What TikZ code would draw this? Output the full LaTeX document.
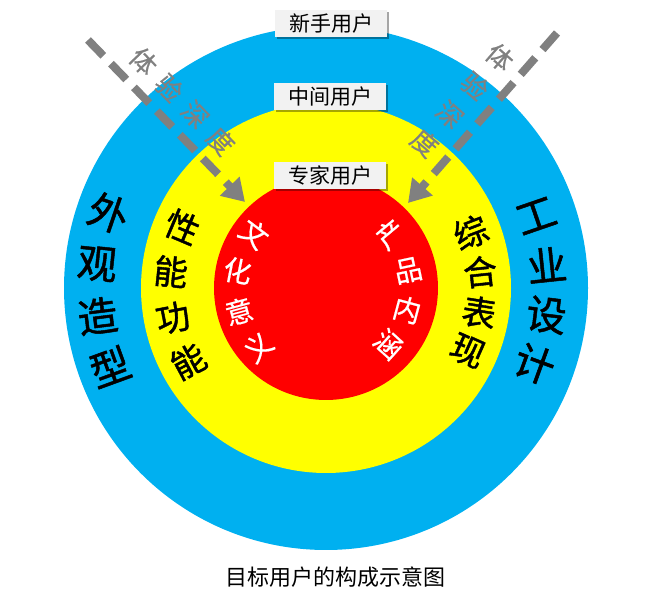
\documentclass[tikz,border=0pt]{standalone}
\usepackage{fontspec}
\setmainfont{Noto Sans CJK SC}
\newfontfamily\ringfont{Noto Sans CJK SC}[FakeBold=1.2]
\newfontfamily\corefont{Noto Sans CJK SC}[FakeBold=0.6]
\usepackage{tikz}
\usetikzlibrary{arrows.meta,shadows}
\definecolor{ringblue}{RGB}{0,176,240}
\definecolor{ringyellow}{RGB}{255,255,0}
\definecolor{ringred}{RGB}{255,0,0}
\definecolor{depthgray}{RGB}{128,128,128}
\definecolor{tagfill}{RGB}{242,242,242}

\begin{document}
\begin{tikzpicture}[x=1pt,y=1pt,
    usertag/.style={fill=tagfill,minimum width=112pt,minimum height=27pt,inner sep=0pt,
      font=\fontsize{21}{21}\selectfont,
      drop shadow={shadow xshift=2pt,shadow yshift=-2pt,opacity=0.35,fill=black}},
    deptharrow/.style={depthgray,line width=8pt,dash pattern=on 22pt off 11pt,
      -{Triangle[length=22pt,width=26pt]}},
    depthchar/.style={text=depthgray,font=\corefont\fontsize{26}{26}\selectfont,inner sep=0pt}]
  \useasboundingbox (0,0) rectangle (670,604);
  \coordinate (C) at (326,316);
  % ---- the three rings
  \fill[ringblue] (C) circle (262);
  \fill[ringyellow] (C) circle (185);
  \fill[ringred] (C) circle (112);
  % ---- blue ring: outer words
  \foreach \ch/\ang [count=\i] in {外/161,观/174,造/187,型/200}
    \node[font=\ringfont\fontsize{40}{40}\selectfont,rotate=\ang-180,inner sep=0pt] (outL\i) at ([shift={(\ang:230)}]C) {\ch};
  \foreach \ch/\ang [count=\i] in {工/19,业/6,设/-7,计/-20}
    \node[font=\ringfont\fontsize{40}{40}\selectfont,rotate=\ang,inner sep=0pt] (outR\i) at ([shift={(\ang:222)}]C) {\ch};
  % ---- yellow ring
  \foreach \ch/\ang [count=\i] in {性/157,能/174,功/191,能/208}
    \node[font=\ringfont\fontsize{34}{34}\selectfont,rotate=\ang-180,inner sep=0pt] (midL\i) at ([shift={(\ang:156)}]C) {\ch};
  \foreach \ch/\ang [count=\i] in {综/21,合/6,表/-9,现/-24}
    \node[font=\ringfont\fontsize{34}{34}\selectfont,rotate=\ang,inner sep=0pt] (midR\i) at ([shift={(\ang:155)}]C) {\ch};
  % ---- red core
  \foreach \ch/\ang [count=\i] in {文/143,化/169,意/195,义/221}
    \node[text=white,font=\corefont\fontsize{28}{28}\selectfont,rotate=\ang-180,inner sep=0pt] (inL\i) at ([shift={(\ang:90)}]C) {\ch};
  \foreach \ch/\ang [count=\i] in {产/40,品/12,内/-15,涵/-42}
    \node[text=white,font=\corefont\fontsize{28}{28}\selectfont,rotate=\ang,inner sep=0pt] (inR\i) at ([shift={(\ang:84)}]C) {\ch};
  % ---- depth arrows
  \coordinate (lstart) at (88,564);
  \coordinate (ltip) at (245,402);
  \coordinate (rstart) at (557,571);
  \coordinate (rtip) at (408,401);
  \draw[deptharrow] (lstart) -- (ltip);
  \draw[deptharrow] (rstart) -- (rtip);
  \foreach \ch/\x/\y [count=\i] in {体/143.5/542.6,验/169.3/516.1,深/195.0/489.5,度/220.8/462.9}
    \node[depthchar,rotate=-46] (dl\i) at (\x,\y) {\ch};
  \foreach \ch/\x/\y [count=\i] in {体/499.8/546.7,验/474.8/518.1,深/449.7/489.5,度/424.7/461.0}
    \node[depthchar,rotate=-41] (dr\i) at (\x,\y) {\ch};
  % ---- user tags
  \node[usertag] (novice) at (331,580.5) {新手用户};
  \node[usertag] (middle) at (330,507) {中间用户};
  \node[usertag] (expert) at (330,428) {专家用户};
  \node[font=\fontsize{22}{22}\selectfont] (caption) at (335,27) {目标用户的构成示意图};
\end{tikzpicture}
\end{document}
